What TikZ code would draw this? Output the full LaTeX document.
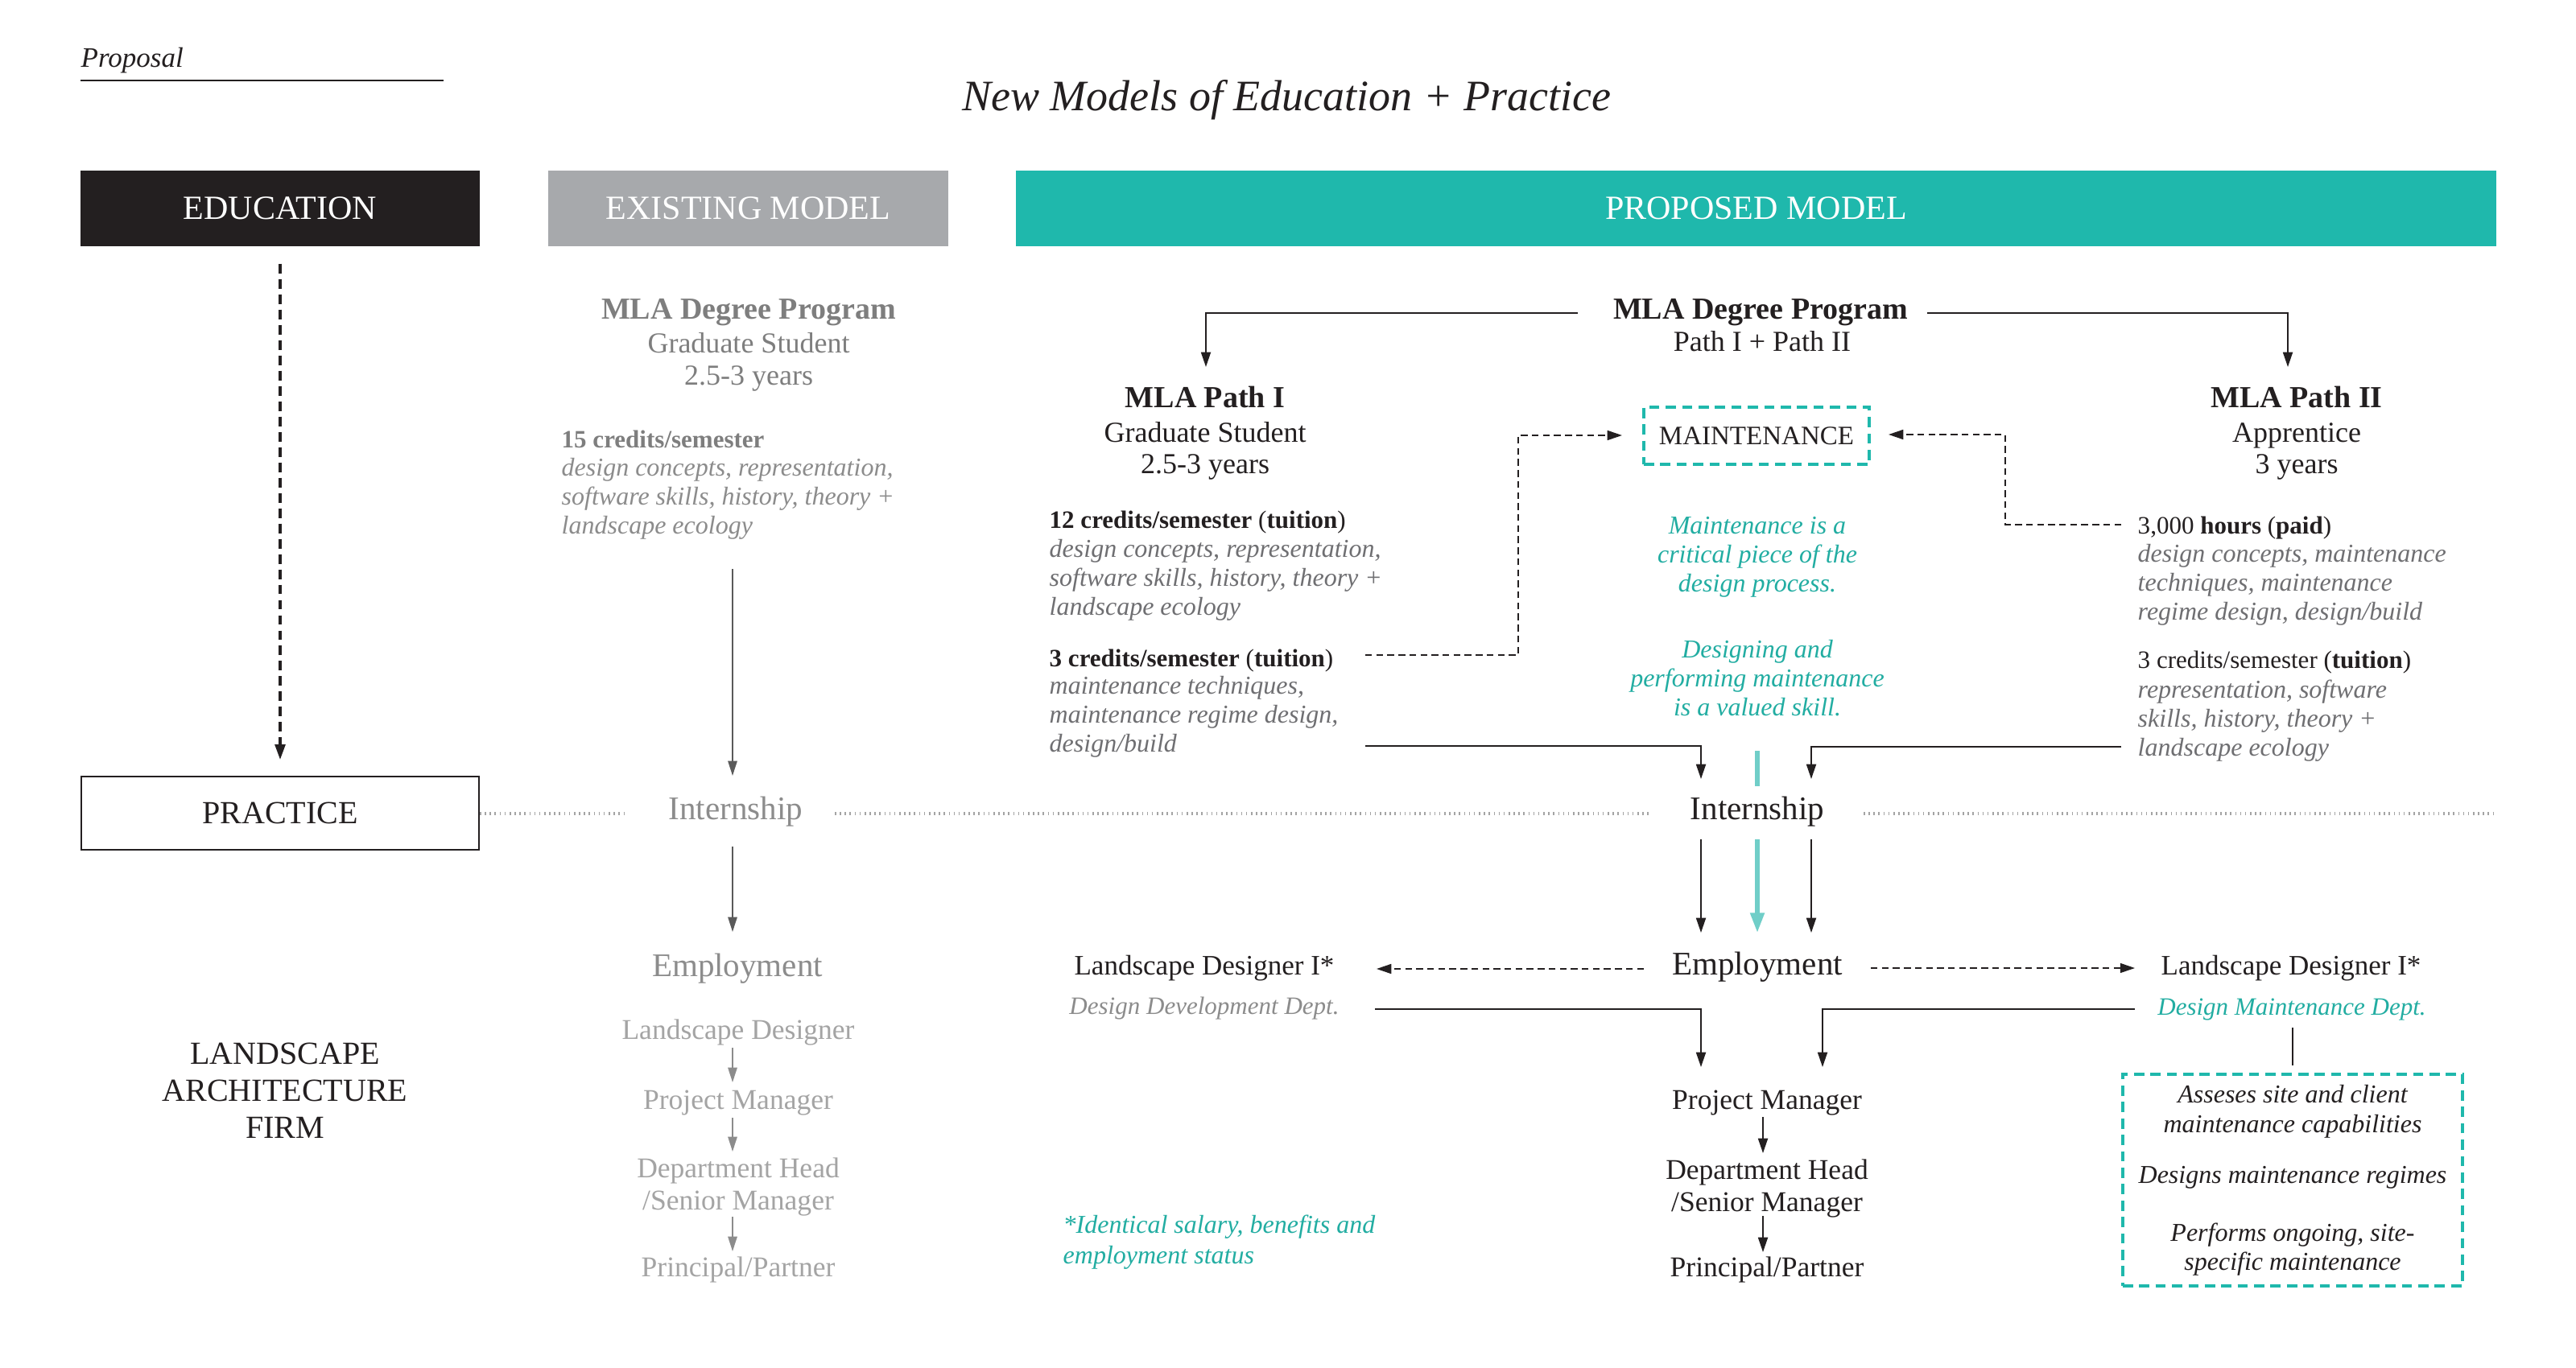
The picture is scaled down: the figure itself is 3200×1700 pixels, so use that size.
\documentclass[tikz,border=0pt]{standalone}
\usepackage{fontspec}
\setmainfont{Liberation Serif}
\usetikzlibrary{arrows.meta}
\definecolor{ink}{HTML}{231F20}
\definecolor{tealH}{HTML}{1FB8AC}
\definecolor{tealT}{HTML}{22ADA2}
\definecolor{tealL}{HTML}{70CEC8}
\definecolor{greyH}{HTML}{A7A9AC}
\definecolor{greyA}{HTML}{7E7E7E}
\definecolor{greyB}{HTML}{8C8C8C}
\definecolor{greyC}{HTML}{A4A4A4}
\definecolor{greyD}{HTML}{6F6F72}
\definecolor{greyE}{HTML}{5A5A5A}
\newcommand\fpx[2]{\fontsize{#1}{#2}\selectfont}
\begin{document}
\begin{tikzpicture}[x=0.01cm,y=-0.01cm,
  tx/.style={inner sep=0pt, text=ink, anchor=mid},
  arr/.style={draw=ink, line width=0.55pt, -{Triangle[length=5.2pt,width=3.4pt]}},
  garr/.style={draw=greyE, line width=0.55pt, -{Triangle[length=5.2pt,width=3.2pt]}},
  dashln/.style={draw=ink, line width=0.5pt, dash pattern=on 2.4pt off 1.5pt},
  dotln/.style={draw=greyC, line width=0.9pt, dash pattern=on 0.45pt off 1.3pt},
  tbox/.style={draw=tealH, line width=1.1pt, dash pattern=on 3.6pt off 2.2pt, inner sep=0pt},
  hdr/.style={text=white, inner sep=0pt, minimum height=0.94cm, font=\fpx{11.95pt}{14pt}},
  big/.style={tx, font=\fpx{10.81pt}{13pt}\bfseries},
  sub/.style={tx, font=\fpx{10.24pt}{12pt}},
  cred/.style={tx, anchor=mid west, font=\fpx{8.82pt}{10pt}},
  desc/.style={tx, anchor=west, align=left, text=greyD, font=\fpx{9.10pt}{10.24pt}\itshape},
  stage/.style={tx, font=\fpx{11.67pt}{14pt}},
  role/.style={tx, font=\fpx{10.1pt}{11.38pt}},
]
\useasboundingbox[fill=white] (0,0) rectangle (3200,1700);

% title block
\node[tx, anchor=base west, font=\fpx{9.96pt}{12pt}\itshape] (proposal) at (100,84) {Proposal};
\draw[draw=ink, line width=0.45pt] (100,100) -- (551,100);
\node[tx, anchor=base, font=\fpx{15.36pt}{18pt}\itshape] (title) at (1598,138) {New Models of Education + Practice};

% headers
\node[hdr, fill=ink, minimum width=4.96cm] (edu) at (348,259) {EDUCATION};
\node[hdr, fill=greyH, minimum width=4.97cm] (exist) at (929.5,259) {EXISTING MODEL};
\node[hdr, fill=tealH, minimum width=18.37cm] (propm) at (2181.5,259) {PROPOSED MODEL};

% education / practice
\node[draw=ink, line width=0.5pt, inner sep=0pt, minimum width=4.94cm, minimum height=0.91cm, text=ink, font=\fpx{11.38pt}{13pt}] (practice) at (348,1010.5) {PRACTICE};
\draw[draw=ink, line width=1pt, dash pattern=on 3.4pt off 2pt, -{Triangle[length=5.4pt,width=3.6pt]}] ([yshift=-0.21cm]edu.south) -- ([yshift=0.2cm]practice.north);
\node[tx, anchor=center, align=center, font=\fpx{11.38pt}{13.09pt}] (firm) at (354,1355) {LANDSCAPE\\ARCHITECTURE\\FIRM};

% existing model
\node[big, text=greyA] (exMLA) at (930,388) {MLA Degree Program};
\node[sub, text=greyA] (exGrad) at (930,430) {Graduate Student};
\node[sub, text=greyA] (exYrs) at (930,470) {2.5-3 years};
\node[cred, text=greyA, font=\fpx{8.82pt}{10pt}\bfseries] (ex15) at (697,548) {15 credits/semester};
\node[desc, text=greyB] (exDesc) at (697,620) {design concepts, representation,\\software skills, history, theory +\\landscape ecology};
\node[stage, text=greyB] (exInt) at (914,1010) {Internship};
\node[stage, text=greyB] (exEmp) at (916,1205) {Employment};
\node[role, text=greyC] (exLD) at (917,1283) {Landscape Designer};
\node[role, text=greyC] (exPM) at (917,1370) {Project Manager};
\node[role, anchor=center, align=center, text=greyC] (exDH) at (917,1475) {Department Head\\/Senior Manager};
\node[role, text=greyC] (exPP) at (917,1578) {Principal/Partner};

\coordinate (eA1) at (910,707);  \coordinate (eA2) at (910,964);
\coordinate (eB1) at (910,1052); \coordinate (eB2) at (910,1158);
\coordinate (eC1) at (910,1302); \coordinate (eC2) at (910,1345);
\coordinate (eD1) at (910,1389); \coordinate (eD2) at (910,1431);
\coordinate (eE1) at (910,1512); \coordinate (eE2) at (910,1555);
\draw[garr] (eA1) -- (eA2);
\draw[garr] (eB1) -- (eB2);
\draw[garr, draw=greyB] (eC1) -- (eC2);
\draw[garr, draw=greyB] (eD1) -- (eD2);
\draw[garr, draw=greyB] (eE1) -- (eE2);

% dotted practice line
\coordinate (dA) at (780,1011);  \coordinate (dB) at (1037,1011);
\coordinate (dC) at (2051,1011); \coordinate (dD) at (2315,1011);
\coordinate (dE) at (3102,1011);
\draw[dotln] (practice.east |- dA) -- (dA);
\draw[dotln] (dB) -- (dC);
\draw[dotln] (dD) -- (dE);

% proposed model top
\node[big] (pMLA) at (2187,388) {MLA Degree Program};
\node[sub] (pPath) at (2189,428) {Path I + Path II};
\coordinate (tL1) at (1960,389); \coordinate (tL2) at (1498,456);
\coordinate (tR1) at (2394,389); \coordinate (tR2) at (2842,456);
\draw[arr] (tL1) -| (tL2);
\draw[arr] (tR1) -| (tR2);

% path I
\node[big] (p1MLA) at (1497,498) {MLA Path I};
\node[sub] (p1Grad) at (1497,541) {Graduate Student};
\node[sub] (p1Yrs) at (1497,580) {2.5-3 years};
\node[cred] (p1a) at (1303,648) {\textbf{12 credits/semester} (\textbf{tuition})};
\node[desc] (p1aD) at (1303,721) {design concepts, representation,\\software skills, history, theory +\\landscape ecology};
\node[cred] (p1b) at (1303,820) {\textbf{3 credits/semester} (\textbf{tuition})};
\node[desc] (p1bD) at (1303,891) {maintenance techniques,\\maintenance regime design,\\design/build};

% path II
\node[big] (p2MLA) at (2853,498) {MLA Path II};
\node[sub] (p2App) at (2853,541) {Apprentice};
\node[sub] (p2Yrs) at (2853,580) {3 years};
\node[cred] (p2a) at (2655,655) {3,000 \textbf{hours} (\textbf{paid})};
\node[desc] (p2aD) at (2655,727) {design concepts, maintenance\\techniques, maintenance\\regime design, design/build};
\node[cred] (p2b) at (2655,822) {3 credits/semester (\textbf{tuition})};
\node[desc] (p2bD) at (2655,896) {representation, software\\skills, history, theory +\\landscape ecology};

% maintenance
\node[tbox, minimum width=2.8cm, minimum height=0.71cm, text=ink, font=\fpx{9.39pt}{11pt}] (maint) at (2182,541.5) {MAINTENANCE};
\coordinate (mL1) at (1696,814); \coordinate (mL2) at (1886,541); \coordinate (mL3) at (2015,541);
\coordinate (mR1) at (2635,652); \coordinate (mR2) at (2491,540); \coordinate (mR3) at (2346,540);
\draw[dashln, -{Triangle[length=5.2pt,width=3.4pt]}] (mL1) -| (mL2) -- (mL3);
\draw[dashln, -{Triangle[length=5.2pt,width=3.4pt]}] (mR1) -| (mR2) -- (mR3);
\node[tx, anchor=center, align=center, text=tealT, font=\fpx{9.10pt}{10.24pt}\itshape] (tq1) at (2183,692) {Maintenance is a\\critical piece of the\\design process.};
\node[tx, anchor=center, align=center, text=tealT, font=\fpx{9.10pt}{10.24pt}\itshape] (tq2) at (2183,843) {Designing and\\performing maintenance\\is a valued skill.};

% internship / employment
\node[stage] (pInt) at (2183,1010) {Internship};
\node[stage] (pEmp) at (2183,1203) {Employment};
\coordinate (iL1) at (1696,927); \coordinate (iL2) at (2113,968);
\coordinate (iR1) at (2635,928); \coordinate (iR2) at (2250,968);
\draw[arr] (iL1) -| (iL2);
\draw[arr] (iR1) -| (iR2);
\coordinate (iT1) at (2183,933); \coordinate (iT2) at (2183,977);
\draw[draw=tealL, line width=1.5pt] (iT1) -- (iT2);
\coordinate (jL1) at (2113,1043); \coordinate (jL2) at (2113,1159);
\coordinate (jM1) at (2183,1043); \coordinate (jM2) at (2183,1159);
\coordinate (jR1) at (2250,1043); \coordinate (jR2) at (2250,1159);
\draw[arr] (jL1) -- (jL2);
\draw[arr] (jR1) -- (jR2);
\draw[draw=tealL, line width=1.5pt, -{Triangle[length=7pt,width=4.8pt]}] (jM1) -- (jM2);

% employment branches
\node[role, font=\fpx{9.96pt}{12pt}] (pLD1) at (1496,1203) {Landscape Designer I*};
\node[tx, text=greyB, font=\fpx{8.82pt}{10pt}\itshape] (pDD) at (1496,1252) {Design Development Dept.};
\node[role, font=\fpx{9.96pt}{12pt}] (pLD2) at (2846,1203) {Landscape Designer I*};
\node[tx, text=tealT, font=\fpx{8.82pt}{10pt}\itshape] (pDM) at (2847,1253) {Design Maintenance Dept.};
\coordinate (kL1) at (2042,1204); \coordinate (kL2) at (1710,1204);
\coordinate (kR1) at (2324,1203); \coordinate (kR2) at (2652,1203);
\draw[dashln, -{Triangle[length=5.2pt,width=3.4pt]}] (kL1) -- (kL2);
\draw[dashln, -{Triangle[length=5.2pt,width=3.4pt]}] (kR1) -- (kR2);
\coordinate (lL1) at (1708,1254); \coordinate (lL2) at (2113,1326);
\coordinate (lR1) at (2652,1254); \coordinate (lR2) at (2264,1326);
\draw[arr] (lL1) -| (lL2);
\draw[arr] (lR1) -| (lR2);

% ladder
\node[role] (pPM) at (2195,1370) {Project Manager};
\node[role, anchor=center, align=center] (pDH) at (2195,1477) {Department Head\\/Senior Manager};
\node[role] (pPP) at (2195,1578) {Principal/Partner};
\coordinate (lA1) at (2190,1388); \coordinate (lA2) at (2190,1433);
\coordinate (lB1) at (2190,1511); \coordinate (lB2) at (2190,1556);
\draw[arr] (lA1) -- (lA2);
\draw[arr] (lB1) -- (lB2);

\node[tx, anchor=west, align=left, text=tealT, font=\fpx{9.10pt}{10.81pt}\itshape] (foot) at (1320,1544) {*Identical salary, benefits and\\employment status};

% maintenance dept box
\node[tbox, minimum width=4.22cm, minimum height=2.63cm] (mbox) at (2848,1466.5) {};
\coordinate (mv1) at (2848,1277);
\draw[draw=ink, line width=0.5pt] (mv1) -- ([yshift=0.09cm]mbox.north);
\node[tx, anchor=center, align=center, font=\fpx{9.10pt}{10.53pt}\itshape] (mb1) at (2848,1381) {Asseses site and client\\maintenance capabilities};
\node[tx, font=\fpx{9.10pt}{10.53pt}\itshape] (mb2) at (2848,1462) {Designs maintenance regimes};
\node[tx, anchor=center, align=center, font=\fpx{9.10pt}{10.24pt}\itshape] (mb3) at (2848,1553) {Performs ongoing, site-\\specific maintenance};
\end{tikzpicture}
\end{document}
